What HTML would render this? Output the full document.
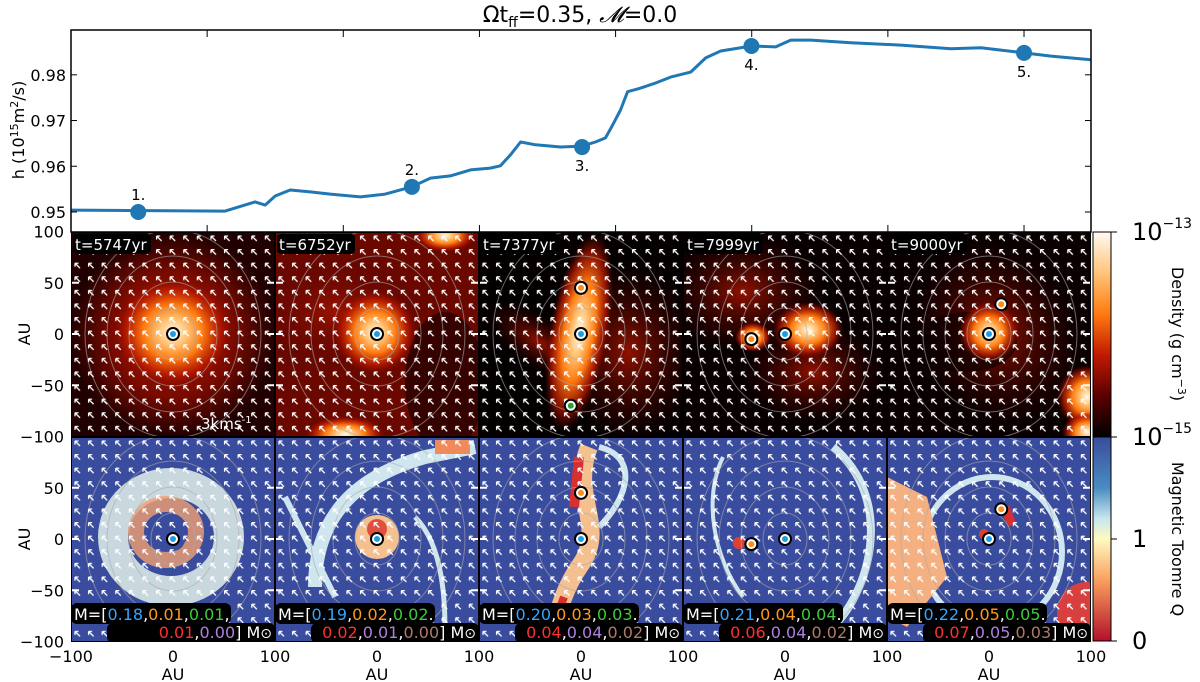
<!DOCTYPE html>
<html><head><meta charset="utf-8"><style>
body{margin:0;background:#fff;}
svg{display:block;font-family:"DejaVu Sans","Liberation Sans",sans-serif;}
</style></head><body>
<svg id="fig" width="1200" height="682" viewBox="0 0 1200 682">
<defs>
  <pattern id="arrows" width="13.6" height="13.6" patternUnits="userSpaceOnUse">
    <path d="M9,9 L4,4 M4,4 L4,7.5 M4,4 L7.5,4" stroke="#fff" stroke-width="1.3" fill="none"/>
  </pattern>
  <linearGradient id="cbDen" x1="0" y1="0" x2="0" y2="1">
    <stop offset="0" stop-color="#fffaf2"/><stop offset="0.2" stop-color="#ffc47a"/>
    <stop offset="0.4" stop-color="#ff7a10"/><stop offset="0.6" stop-color="#c01a00"/>
    <stop offset="0.8" stop-color="#5a0000"/><stop offset="1" stop-color="#000"/>
  </linearGradient>
  <linearGradient id="cbQ" x1="0" y1="0" x2="0" y2="1">
    <stop offset="0" stop-color="#3a4c9e"/><stop offset="0.25" stop-color="#4a8cc0"/>
    <stop offset="0.4" stop-color="#c8e6f0"/><stop offset="0.5" stop-color="#fdfbc0"/>
    <stop offset="0.7" stop-color="#f9a060"/><stop offset="1" stop-color="#b2102a"/>
  </linearGradient>
  <radialGradient id="blob"><stop offset="0" stop-color="#fffbe8"/><stop offset="0.25" stop-color="#ffc070"/><stop offset="0.5" stop-color="#ff7a10"/><stop offset="0.8" stop-color="#c01a00" stop-opacity="0.7"/><stop offset="1" stop-color="#8a0a00" stop-opacity="0"/></radialGradient>
  <radialGradient id="redbg"><stop offset="0" stop-color="#b01800"/><stop offset="0.6" stop-color="#7a0a00"/><stop offset="1" stop-color="#200000"/></radialGradient>
  <radialGradient id="redhaze"><stop offset="0" stop-color="#a01400" stop-opacity="0.9"/><stop offset="1" stop-color="#500000" stop-opacity="0"/></radialGradient>
</defs>
<text x="580" y="22" text-anchor="middle" font-size="22">Ωt<tspan font-size="14" dy="5">ff</tspan><tspan dy="-5">=0.35, </tspan><tspan font-style="italic" font-family="Liberation Serif, serif">𝓜</tspan>=0.0</text>
<g id="top"></g>
<g id="panels"></g>
<g id="cbars"></g>
</svg>
<script>
// ---- top chart data ----
const timeYr = [5500,6066,6176,6213,6250,6305,6379,6452,6563,6654,6752,6820,6893,6967,7040,7077,7114,7151,7206,7298,7377,7426,7463,7489,7518,7544,7592,7647,7702,7776,7831,7886,7999,8088,8143,8217,8364,8548,8732,8842,8915,9000,9099,9246];
const hVals  = [0.9504,0.9502,0.9522,0.9515,0.9535,0.9548,0.9544,0.9539,0.9533,0.9539,0.9555,0.9574,0.9579,0.9592,0.9596,0.9601,0.9625,0.9653,0.9647,0.9642,0.9644,0.9653,0.9662,0.9690,0.9723,0.9763,0.9771,0.9782,0.9795,0.9806,0.9837,0.9852,0.9863,0.9861,0.9876,0.9876,0.9870,0.9865,0.9857,0.9859,0.9854,0.9848,0.9841,0.9833];
const snapTimes = [5747,6752,7377,7999,9000];
const snapH = [0.9500,0.9555,0.9642,0.9863,0.9848];
const snapLabels = ["1.","2.","3.","4.","5."];
const yTicks = [0.95,0.96,0.97,0.98];
const xTicks = [6000,6500,7000,7500,8000,8500,9000];
// ---- panel data ----
const panelTimes = ["t=5747yr","t=6752yr","t=7377yr","t=7999yr","t=9000yr"];
const massVals = [[0.18,0.01,0.01,0.01,0.00],[0.19,0.02,0.02,0.02,0.01,0.00],[0.20,0.03,0.03,0.04,0.04,0.02],[0.21,0.04,0.04,0.06,0.04,0.02],[0.22,0.05,0.05,0.07,0.05,0.03]];
const auTicks = [-100,-50,0,50,100];

const NS="http://www.w3.org/2000/svg";
function mk(tag, attrs, parent){const e=document.createElementNS(NS,tag);for(const k in attrs)e.setAttribute(k,attrs[k]);if(parent)parent.appendChild(e);return e;}

const L=71,R=1091,T=30,B=232;
const tx=t=>L+(t-5500)*(R-L)/(9246-5500);
const ty=h=>B-(h-0.94562)*(B-T)/(0.9898-0.94562);
const topG=document.getElementById('top');
let pts=timeYr.map((t,i)=>tx(t).toFixed(1)+","+ty(hVals[i]).toFixed(1)).join(" ");
const hLine=mk('polyline',{points:pts,fill:"none",stroke:"#1f77b4","stroke-width":3,"stroke-linejoin":"round"},topG);


snapTimes.forEach((t,i)=>{
  const c=mk('circle',{cx:tx(t),cy:ty(snapH[i]),r:8,fill:"#1f77b4"},topG);
  
  
  const above=i<2;
  const lb=mk('text',{x:tx(t),y:ty(snapH[i])+(above?-12:24),"text-anchor":"middle","font-size":15},topG);
  lb.textContent=snapLabels[i];
  
  
});
mk('rect',{x:L,y:T,width:R-L,height:B-T,fill:"none",stroke:"#000","stroke-width":1.5},topG);
yTicks.forEach(v=>{
  mk('line',{x1:L,x2:L+6,y1:ty(v),y2:ty(v),stroke:"#000"},topG);
  mk('line',{x1:R-6,x2:R,y1:ty(v),y2:ty(v),stroke:"#000"},topG);
  const t=mk('text',{x:L-5,y:ty(v)+6,"text-anchor":"end","font-size":16},topG);t.textContent=v.toFixed(2);
  
  
});
xTicks.forEach(v=>{
  mk('line',{x1:tx(v),x2:tx(v),y1:T,y2:T+7,stroke:"#000"},topG);
  mk('line',{x1:tx(v),x2:tx(v),y1:B-7,y2:B,stroke:"#000"},topG);
});
const yl=mk('text',{x:0,y:0,transform:"translate(24,130) rotate(-90)","text-anchor":"middle","font-size":16},topG);
yl.innerHTML='h (10<tspan font-size="11" dy="-6">15</tspan><tspan dy="6">m</tspan><tspan font-size="11" dy="-6">2</tspan><tspan dy="6">/s)</tspan>';



const PG=document.getElementById('panels');
const PW=204, rowY=[232,437], PH=205;
const massCols=["#35a5ff","#ff9a1e","#3ccc3c","#ff3030","#b080e0","#b07a66"];
const denScenes=[
 g=>{mk('rect',{x:0,y:0,width:PW,height:PH,fill:"url(#redbg)"},g);mk('ellipse',{cx:102,cy:100,rx:60,ry:55,fill:"url(#blob)"},g);},
 g=>{mk('rect',{x:0,y:0,width:PW,height:PH,fill:"#6a0800"},g);mk('ellipse',{cx:60,cy:80,rx:90,ry:60,fill:"url(#redhaze)"},g);mk('ellipse',{cx:170,cy:150,rx:40,ry:70,fill:"#200000",opacity:0.7},g);mk('ellipse',{cx:100,cy:100,rx:42,ry:42,fill:"url(#blob)"},g);mk('ellipse',{cx:70,cy:202,rx:40,ry:18,fill:"url(#blob)"},g);mk('ellipse',{cx:170,cy:4,rx:30,ry:16,fill:"url(#blob)"},g);},
 g=>{mk('rect',{x:0,y:0,width:PW,height:PH,fill:"#050000"},g);mk('ellipse',{cx:150,cy:120,rx:70,ry:90,fill:"url(#redhaze)"},g);mk('ellipse',{cx:60,cy:110,rx:60,ry:25,fill:"url(#redhaze)",transform:"rotate(35 60 110)"},g);mk('ellipse',{cx:100,cy:100,rx:30,ry:100,fill:"url(#blob)",transform:"rotate(10 100 100)"},g);},
 g=>{mk('rect',{x:0,y:0,width:PW,height:PH,fill:"#080000"},g);mk('ellipse',{cx:60,cy:60,rx:80,ry:60,fill:"url(#redhaze)"},g);mk('ellipse',{cx:130,cy:140,rx:70,ry:50,fill:"url(#redhaze)"},g);mk('ellipse',{cx:125,cy:98,rx:35,ry:28,fill:"url(#blob)"},g);mk('ellipse',{cx:70,cy:105,rx:18,ry:15,fill:"url(#blob)"},g);},
 g=>{mk('rect',{x:0,y:0,width:PW,height:PH,fill:"#0a0000"},g);mk('ellipse',{cx:110,cy:100,rx:80,ry:95,fill:"url(#redhaze)",transform:"rotate(-30 110 100)"},g);mk('ellipse',{cx:80,cy:110,rx:50,ry:30,fill:"#0a0000",opacity:0.6},g);mk('ellipse',{cx:102,cy:100,rx:30,ry:30,fill:"url(#blob)"},g);mk('ellipse',{cx:200,cy:165,rx:30,ry:32,fill:"url(#blob)"},g);mk('ellipse',{cx:200,cy:200,rx:25,ry:20,fill:"url(#blob)"},g);}
];
const qScenes=[
 g=>{mk('ellipse',{cx:100,cy:100,rx:58,ry:54,fill:"none",stroke:"#d8e8e4","stroke-width":30,opacity:0.9},g);mk('ellipse',{cx:95,cy:95,rx:30,ry:28,fill:"none",stroke:"#f4a070","stroke-width":16,opacity:0.8},g);mk('circle',{cx:102,cy:102,r:12,fill:"#3a4c9e"},g);},
 g=>{mk('path',{d:"M40,150 C40,80 80,40 150,20 L200,10",fill:"none",stroke:"#cfe6ee","stroke-width":14},g);mk('path',{d:"M160,10 L195,10",stroke:"#f08a5a","stroke-width":14},g);mk('path',{d:"M10,60 L60,160",stroke:"#cfe6ee","stroke-width":6},g);mk('circle',{cx:102,cy:100,r:22,fill:"#f4c090"},g);mk('circle',{cx:102,cy:92,r:10,fill:"#e05040"},g);mk('path',{d:"M140,80 C170,110 170,170 170,200",fill:"none",stroke:"#cfe6ee","stroke-width":5},g);},
 g=>{mk('path',{d:"M110,10 C90,60 130,90 100,130 C80,160 80,180 70,205",fill:"none",stroke:"#f4c090","stroke-width":18},g);mk('path',{d:"M100,20 L95,70",stroke:"#d83030","stroke-width":10},g);mk('path',{d:"M85,160 L70,200",stroke:"#d83030","stroke-width":8},g);mk('path',{d:"M120,10 C160,20 150,60 120,90",fill:"none",stroke:"#cfe6ee","stroke-width":6},g);},
 g=>{mk('path',{d:"M150,10 C210,60 190,150 150,190",fill:"none",stroke:"#cfe6ee","stroke-width":8},g);mk('path',{d:"M40,20 C20,60 30,120 60,160",fill:"none",stroke:"#cfe6ee","stroke-width":4},g);mk('circle',{cx:56,cy:106,r:6,fill:"#e04030"},g);},
 g=>{mk('ellipse',{cx:105,cy:115,rx:70,ry:75,fill:"none",stroke:"#cfe6ee","stroke-width":6},g);mk('path',{d:"M0,40 L40,60 L60,140 L20,190 L0,180 Z",fill:"#f4b080"},g);mk('circle',{cx:200,cy:175,r:30,fill:"#d84040"},g);mk('path',{d:"M118,70 L125,88",stroke:"#d83030","stroke-width":9},g);mk('circle',{cx:97,cy:97,r:5,fill:"#e04030"},g);}
];
const sinks=[[[0,0,0]],[[0,0,0]],[[0,0,0],[0,45,1],[-10,-70,2]],[[0,0,0],[-33,-5,1]],[[0,0,0],[12,29,1]]];
const sinkCol=["#1f9be0","#ff8c1a","#2ca02c"];
for(let c=0;c<5;c++){
  const x0=71+c*PW;
  for(let r=0;r<2;r++){
    const y0=rowY[r];
    const cid='clip'+c+'_'+r;
    const cp=mk('clipPath',{id:cid},PG);mk('rect',{x:0,y:0,width:PW,height:PH},cp);
    const g=mk('g',{transform:`translate(${x0},${y0})`,"clip-path":`url(#${cid})`},PG);
    
    
    if(r==0) denScenes[c](g); else {mk('rect',{x:0,y:0,width:PW,height:PH,fill:"#3a4c9e"},g);qScenes[c](g);}
    for(let k=1;k<5;k++) mk('ellipse',{cx:102,cy:102,rx:22*k,ry:26*k,fill:"none",stroke:"#aaa","stroke-width":1,opacity:0.6},g);
    mk('rect',{x:0,y:0,width:PW,height:PH,fill:"url(#arrows)"},g);
    sinks[c].forEach(s=>{
      const sx=102+s[0]*PW/200, sy=102-s[1]*PH/200;
      mk('circle',{cx:sx,cy:sy,r:6,fill:"#fff",stroke:"#000","stroke-width":2},g);
      mk('circle',{cx:sx,cy:sy,r:3,fill:sinkCol[s[2]]},g);
    });
    [50,0,-50].forEach(v=>{const yy=102-v*PH/200;mk('line',{x1:0,x2:8,y1:yy,y2:yy,stroke:"#fff","stroke-width":2},g);mk('line',{x1:PW-8,x2:PW,y1:yy,y2:yy,stroke:"#fff","stroke-width":2},g);});
    mk('rect',{x:0,y:0,width:PW,height:PH,fill:"none",stroke:"#000","stroke-width":2},g);
    if(r==0){
      mk('rect',{x:2,y:2,width:78,height:20,fill:"#000",rx:4},g);
      const t=mk('text',{x:4,y:18,fill:"#fff","font-size":15},g);t.textContent=panelTimes[c];
      
      
      if(c==0){const s=mk('text',{x:130,y:197,fill:"#fff","font-size":15},g);s.innerHTML='3kms<tspan font-size="10" dy="-6">-1</tspan>';
        
        }
    } else {
      const m=massVals[c];
      mk('rect',{x:0,y:166,width:160,height:21,fill:"#000",rx:6},g);
      mk('rect',{x:36,y:186,width:168,height:20,fill:"#000",rx:6},g);
      const t1=mk('text',{x:3,y:183,fill:"#fff","font-size":16},g);
      t1.innerHTML=`M=[<tspan fill="${massCols[0]}">${m[0].toFixed(2)}</tspan>,<tspan fill="${massCols[1]}">${m[1].toFixed(2)}</tspan>,<tspan fill="${massCols[2]}">${m[2].toFixed(2)}</tspan>`+(m.length==5?',':'.');
      
      
      let l2=`<tspan fill="${massCols[3]}">${m[3].toFixed(2)}</tspan>,<tspan fill="${massCols[4]}">${m[4].toFixed(2)}</tspan>`;
      if(m.length>5) l2+=`,<tspan fill="${massCols[5]}">${m[5].toFixed(2)}</tspan>`;
      const t2=mk('text',{x:PW-3,y:201,fill:"#fff","font-size":16,"text-anchor":"end"},g);
      t2.innerHTML=l2+'] M<tspan font-size="14">⊙</tspan>';
      
      
    }
  }
  auTicks.filter(v=>v!=50&&v!=-50).forEach(v=>{
    const xx=x0+102+v*PW/200;
    if(v==-100&&c>0) return;
    const t=mk('text',{x:xx,y:662,"text-anchor":"middle","font-size":16},PG);t.textContent=v<0?'−'+Math.abs(v):v;
    
    
  });
  const au=mk('text',{x:x0+102,y:680,"text-anchor":"middle","font-size":16},PG);au.textContent='AU';
  
  
}
for(let r=0;r<2;r++){
  auTicks.forEach(v=>{
    if(r==1&&v==100) return;
    const yy=rowY[r]+102-v*PH/200;
    const t=mk('text',{x:64,y:yy+6,"text-anchor":"end","font-size":16},PG);t.textContent=v<0?'−'+Math.abs(v):v;
    
    
  });
  const a=mk('text',{x:0,y:0,transform:`translate(${30},${rowY[r]+102}) rotate(-90)`,"text-anchor":"middle","font-size":16},PG);a.textContent='AU';
  
  
}
const CG=document.getElementById('cbars');
const cb1=mk('rect',{x:1093,y:232,width:18,height:205,fill:"url(#cbDen)",stroke:"#000"},CG);


const cb2=mk('rect',{x:1093,y:437,width:18,height:204,fill:"url(#cbQ)",stroke:"#000"},CG);


[[232,'10<tspan font-size="14" dy="-12">−13</tspan>'],[437,'10<tspan font-size="14" dy="-12">−15</tspan>'],[539,'1'],[641,'0']].forEach(a=>{
  mk('line',{x1:1111,x2:1117,y1:a[0],y2:a[0],stroke:"#000"},CG);
  const t=mk('text',{x:1132,y:a[0]+8,"font-size":24},CG);t.innerHTML=a[1];
  
  
});
const dT=mk('text',{x:0,y:0,transform:"translate(1172,334) rotate(90)","text-anchor":"middle","font-size":16},CG);
dT.innerHTML='Density (g cm<tspan font-size="11" dy="-6">−3</tspan><tspan dy="6">)</tspan>';


const qT=mk('text',{x:0,y:0,transform:"translate(1172,539) rotate(90)","text-anchor":"middle","font-size":16},CG);
qT.textContent='Magnetic Toomre Q';


</script>
</body></html>
